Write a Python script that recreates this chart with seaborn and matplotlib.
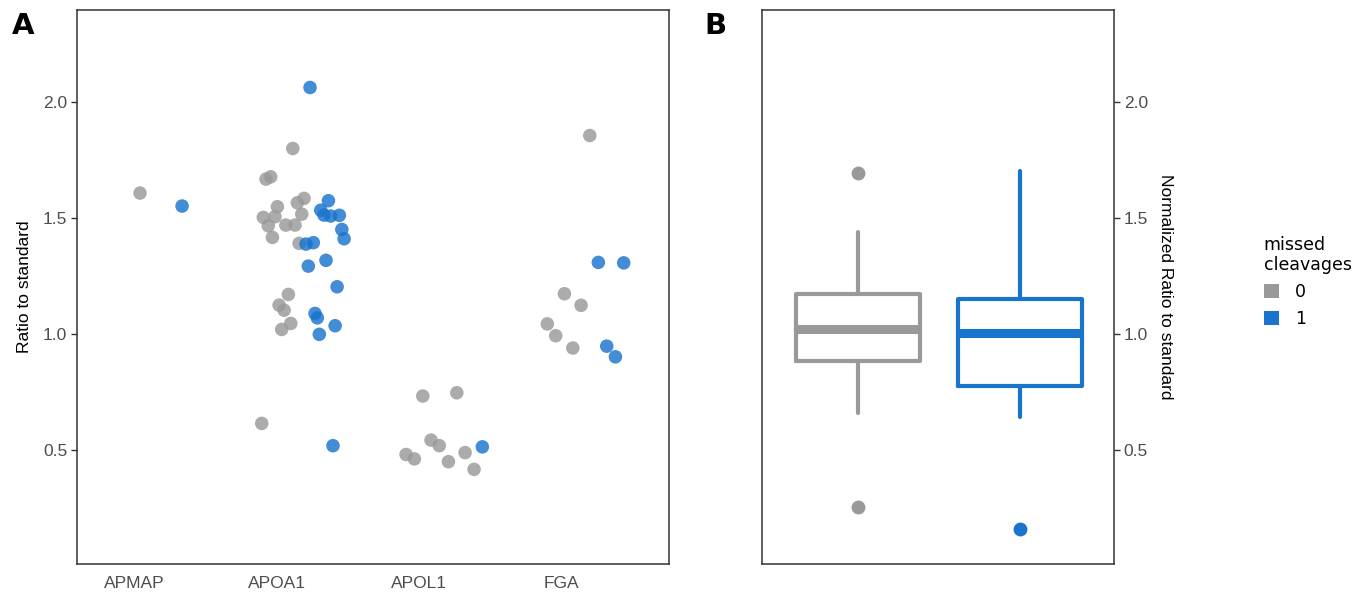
import matplotlib
matplotlib.use("Agg")

import numpy as np
import pandas as pd
import matplotlib.pyplot as plt
import seaborn as sns
from matplotlib.patches import Patch

# ---- data ----
proteins = ["APMAP", "APOA1", "APOL1", "FGA"]
groups = ["0", "1"]
colors = {"0": "#999999", "1": "#1874CD"}

# panel A: ratio to standard per peptide, with the horizontal jitter seen in the figure
apmap_mc0 = [1.608]
apmap_mc0_jit = [0.042]
apmap_mc1 = [1.552]
apmap_mc1_jit = [0.337]

apoa1_mc0 = [1.800, 1.678, 1.668, 1.585, 1.566, 1.549, 1.517, 1.506, 1.503, 1.470,
             1.470, 1.467, 1.417, 1.391, 1.171, 1.125, 1.103, 1.046, 1.020, 0.615]
apoa1_mc0_jit = [0.114, -0.041, -0.074, 0.193, 0.146, 0.006, 0.177, -0.011, -0.093, 0.065,
                 0.130, -0.058, -0.029, 0.158, 0.083, 0.018, 0.053, 0.100, 0.036, -0.104]
apoa1_mc1 = [2.063, 1.575, 1.534, 1.513, 1.509, 1.512, 1.451, 1.411, 1.388, 1.394,
             1.318, 1.293, 1.204, 1.089, 1.070, 1.036, 0.999, 0.519]
apoa1_mc1_jit = [0.235, 0.364, 0.310, 0.333, 0.380, 0.441, 0.458, 0.474, 0.207, 0.258,
                 0.347, 0.223, 0.425, 0.270, 0.286, 0.411, 0.300, 0.396]

apol1_mc0 = [0.733, 0.747, 0.543, 0.519, 0.481, 0.462, 0.450, 0.489, 0.417]
apol1_mc0_jit = [0.026, 0.265, 0.084, 0.142, -0.091, -0.033, 0.206, 0.323, 0.386]
apol1_mc1 = [0.514]
apol1_mc1_jit = [0.444]

fga_mc0 = [1.856, 1.174, 1.124, 1.044, 0.993, 0.940]
fga_mc0_jit = [0.198, 0.020, 0.137, -0.100, -0.041, 0.079]
fga_mc1 = [1.309, 1.307, 0.948, 0.902]
fga_mc1_jit = [0.258, 0.436, 0.317, 0.378]

# panel B: box statistics of the normalized ratio
box_q1 = [0.884, 0.775]
box_med = [1.020, 1.006]
box_q3 = [1.171, 1.151]
box_whislo = [0.662, 0.644]
box_whishi = [1.441, 1.704]
box_fliers = [[1.695, 0.256], [0.159]]

AXFONT = "Liberation Sans"
LEGFONT = "DejaVu Sans"


def build_frame():
    series = [
        ("APMAP", "0", apmap_mc0, apmap_mc0_jit), ("APMAP", "1", apmap_mc1, apmap_mc1_jit),
        ("APOA1", "0", apoa1_mc0, apoa1_mc0_jit), ("APOA1", "1", apoa1_mc1, apoa1_mc1_jit),
        ("APOL1", "0", apol1_mc0, apol1_mc0_jit), ("APOL1", "1", apol1_mc1, apol1_mc1_jit),
        ("FGA", "0", fga_mc0, fga_mc0_jit), ("FGA", "1", fga_mc1, fga_mc1_jit),
    ]
    rows = []
    for prot, mc, vals, jit in series:
        for v, j in zip(vals, jit):
            rows.append({"protein": prot, "missed": mc, "ratio": v,
                         "xpos": proteins.index(prot) + j})
    return pd.DataFrame(rows)


sns.set_theme(style="white")
plt.rcParams["font.family"] = [AXFONT, "DejaVu Sans"]

fig = plt.figure(figsize=(13.54, 5.92), dpi=100)
axA = fig.add_axes([0.0569, 0.0473, 0.4372, 0.9358])
axB = fig.add_axes([0.5628, 0.0473, 0.2599, 0.9358])

ylim = (0.009, 2.397)
yticks = [0.5, 1.0, 1.5, 2.0]

# ---- panel A ----
df = build_frame()
sns.scatterplot(data=df, x="xpos", y="ratio", hue="missed", hue_order=groups,
                palette=colors, s=95, alpha=0.82, edgecolor=None, linewidth=0,
                legend=False, ax=axA)
axA.set_xlim(-0.40, 3.754)
axA.set_ylim(*ylim)
axA.set_xticks(range(len(proteins)))
axA.set_xticklabels(proteins, family=AXFONT)
axA.set_yticks(yticks)
axA.set_yticklabels([f"{t:.1f}" for t in yticks], family=AXFONT)
axA.set_xlabel("")
axA.set_ylabel("Ratio to standard", fontsize=12.5, color="black", labelpad=8,
               family=AXFONT)
axA.tick_params(axis="x", length=0, labelsize=12.5, labelcolor="#4D4D4D", pad=9)
axA.tick_params(axis="y", left=True, length=4, width=1, color="#333333",
                labelsize=12.5, labelcolor="#4D4D4D", pad=3)

# ---- panel B ----
stats = []
for i, g in enumerate(groups):
    stats.append({"q1": box_q1[i], "med": box_med[i], "q3": box_q3[i],
                  "whislo": box_whislo[i], "whishi": box_whishi[i],
                  "fliers": box_fliers[i], "label": g})
for i, g in enumerate(groups):
    c = colors[g]
    axB.bxp([stats[i]], positions=[i], widths=0.765, showcaps=False,
            boxprops=dict(color=c, linewidth=3),
            whiskerprops=dict(color=c, linewidth=3),
            medianprops=dict(color=c, linewidth=6.5, solid_capstyle="butt"),
            flierprops=dict(marker="o", markerfacecolor=c, markeredgecolor="none",
                            markersize=10))
axB.set_xlim(-0.593, 1.58)
axB.set_ylim(*ylim)
axB.set_xticks([])
axB.set_yticks(yticks)
axB.set_yticklabels([f"{t:.1f}" for t in yticks], family=AXFONT)
axB.yaxis.tick_right()
axB.yaxis.set_label_position("right")
axB.set_ylabel("Normalized Ratio to standard", fontsize=12.5, color="black",
               rotation=-90, labelpad=18, family=AXFONT)
axB.tick_params(axis="y", right=True, left=False, length=4, width=1, color="#333333",
                labelsize=12.5, labelcolor="#4D4D4D", pad=3)

for ax in (axA, axB):
    for sp in ax.spines.values():
        sp.set_color("#333333")
        sp.set_linewidth(1.1)
    ax.grid(False)

# panel letters
fig.text(12 / 1354, 1 - 34 / 592, "A", fontsize=21, fontweight="heavy",
         family="DejaVu Sans", color="black")
fig.text(704 / 1354, 1 - 34 / 592, "B", fontsize=21, fontweight="heavy",
         family="DejaVu Sans", color="black")

# legend
handles = [Patch(facecolor=colors[g], edgecolor="none", label=g) for g in groups]
leg = fig.legend(handles=handles, title="missed\ncleavages", loc="upper left",
                 bbox_to_anchor=(1248 / 1354, 1 - 220 / 592), frameon=False,
                 handlelength=0.9, handleheight=0.9, handletextpad=0.9,
                 labelspacing=0.5, alignment="left",
                 prop={"family": LEGFONT, "size": 12.5})
leg.get_title().set_family(LEGFONT)
leg.get_title().set_fontsize(12.5)
leg.get_title().set_color("black")
for t in leg.get_texts():
    t.set_color("black")

fig.savefig("out.png", dpi=100)
